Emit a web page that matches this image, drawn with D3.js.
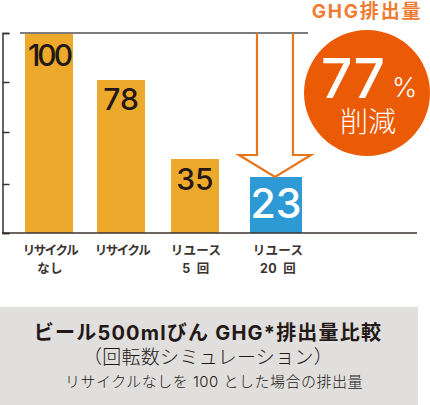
<!DOCTYPE html>
<html>
<head>
<meta charset="utf-8">
<script src="https://cdn.jsdelivr.net/npm/d3@7"></script>
<style>
  html, body { margin: 0; padding: 0; background: #fff; }
  text { font-family: Inter, "Noto Sans CJK JP", sans-serif; }
</style>
</head>
<body>
<div id="chart"></div>
<script>
// Chart data
const categories = ["recycleNone", "recycle", "reuse5", "reuse20"];
const categoryLabels = [["リサイクル", "なし"], ["リサイクル"], ["リユース", "5 回"], ["リユース", "20 回"]];
const valueLabels = ["100", "78", "35", "23"];
// heights as drawn in the picture (not proportional to the printed labels)
const barHeights = [100, 76.5, 37, 28];
const axisTicks = [0, 24.5, 50.5, 75.5, 100];
const footerLines = ["ビール500mlびん GHG*排出量比較", "（回転数シミュレーション）", "リサイクルなしを 100 とした場合の排出量"];

const width = 430, height = 405;
const svg = d3.select("#chart").append("svg")
    .attr("width", width)
    .attr("height", height)
    .style("display", "block");

const y = d3.scaleLinear().domain([0, 100]).range([233, 33]);
// bars are not evenly spaced in the original
const barLeft = d3.scaleOrdinal().domain(categories).range([25, 97, 171, 250]);
const barWidth = d3.scaleOrdinal().domain(categories).range([48, 48, 48, 52]);
const barFill = d3.scaleOrdinal().domain(categories).range(["#ECA92C", "#ECA92C", "#ECA92C", "#2E9AD5"]);
const centerX = d => barLeft(d) + barWidth(d) / 2;

// Bars
svg.selectAll("rect.bar")
    .data(categories)
    .enter()
    .append("rect")
    .attr("class", "bar")
    .attr("x", d => barLeft(d))
    .attr("width", d => barWidth(d))
    .attr("y", (d, i) => y(barHeights[i]))
    .attr("height", (d, i) => y(0) - y(barHeights[i]))
    .attr("fill", d => barFill(d));

// Top reference line
svg.append("line")
    .attr("x1", 20).attr("x2", 308)
    .attr("y1", y(100)).attr("y2", y(100))
    .attr("stroke", "#7d7d7d")
    .attr("stroke-width", 2);

// Y axis, ticks point into the plot
const yAxis = svg.append("g")
    .attr("transform", "translate(2.5,0)")
    .call(d3.axisRight(y).tickValues(axisTicks).tickSize(7).tickFormat(""));
yAxis.selectAll("path, line").attr("stroke", "#3a3230").attr("stroke-width", 1.5);

// Baseline
svg.append("line")
    .attr("x1", 2).attr("x2", 417)
    .attr("y1", y(0)).attr("y2", y(0))
    .attr("stroke", "#3a3230")
    .attr("stroke-width", 1.5);

// Value labels
const labelOffset = [33, 30, 31, 41];
svg.selectAll("text.value")
    .data(categories)
    .enter()
    .append("text")
    .attr("class", "value")
    .attr("x", d => centerX(d))
    .attr("y", (d, i) => y(barHeights[i]) + labelOffset[i])
    .attr("text-anchor", "middle")
    .attr("font-size", (d, i) => i === 3 ? 41 : 30)
    .attr("font-weight", 500)
    .attr("letter-spacing", (d, i) => i === 0 ? -3 : 0)
    .attr("fill", (d, i) => i === 3 ? "#fff" : "#231815")
    .text((d, i) => valueLabels[i]);

// Category labels
categories.forEach((c, i) => {
  categoryLabels[i].forEach((line, j) => {
    svg.append("text")
        .attr("x", centerX(c) + (i === 3 ? 2 : 1))
        .attr("y", 255 + j * 18)
        .attr("text-anchor", "middle")
        .attr("font-size", 12.5)
        .attr("font-weight", 700)
        .attr("letter-spacing", line === "リサイクル" ? -1.5 : 0.3)
        .attr("word-spacing", 3)
        .attr("fill", "#3a3230")
        .text(line);
  });
});

// Reduction arrow from the top line down to the last bar
const arrowX = d3.scaleLinear().domain([-1, 1]).range([239, 311]);
const arrowPoints = [[-0.5, 100], [-0.5, 39], [-1, 39], [0, 28], [1, 39], [0.5, 39], [0.5, 100]];
svg.append("path")
    .attr("d", d3.line().x(d => arrowX(d[0])).y(d => y(d[1]))(arrowPoints))
    .attr("fill", "none")
    .attr("stroke", "#E8751A")
    .attr("stroke-width", 2.2);

// Callout
svg.append("text")
    .attr("x", 367).attr("y", 18)
    .attr("text-anchor", "middle")
    .attr("font-size", 19)
    .attr("font-weight", 700)
    .attr("letter-spacing", 1.8)
    .attr("fill", "#EE7B30")
    .text("GHG排出量");

svg.append("circle")
    .attr("cx", 367).attr("cy", 93).attr("r", 63)
    .attr("fill", "#EB5A05");

svg.append("text")
    .attr("x", 321).attr("y", 98)
    .attr("font-size", 55)
    .attr("font-weight", 500)
    .attr("fill", "#fff")
    .text("77");

svg.append("text")
    .attr("x", 392).attr("y", 97)
    .attr("font-size", 27)
    .attr("font-weight", 300)
    .attr("fill", "#fff")
    .text("%");

svg.append("text")
    .attr("x", 368).attr("y", 132)
    .attr("text-anchor", "middle")
    .attr("font-size", 28)
    .attr("font-weight", 300)
    .attr("fill", "#fff")
    .text("削減");

// Footer panel
svg.append("rect")
    .attr("x", 0).attr("y", 307)
    .attr("width", 418).attr("height", 98)
    .attr("fill", "#E0DFDD");

const footerX = [208, 208, 214];
const footerY = [340, 364, 387];
const footerSize = [20, 19, 15];
const footerWeight = [700, 300, 300];
const footerSpacing = [1.2, 0.3, 0.5];
svg.selectAll("text.footer")
    .data(footerLines)
    .enter()
    .append("text")
    .attr("class", "footer")
    .attr("x", (d, i) => footerX[i])
    .attr("y", (d, i) => footerY[i])
    .attr("text-anchor", "middle")
    .attr("font-size", (d, i) => footerSize[i])
    .attr("font-weight", (d, i) => footerWeight[i])
    .attr("letter-spacing", (d, i) => footerSpacing[i])
    .attr("fill", "#231815")
    .text(d => d);
</script>
</body>
</html>
